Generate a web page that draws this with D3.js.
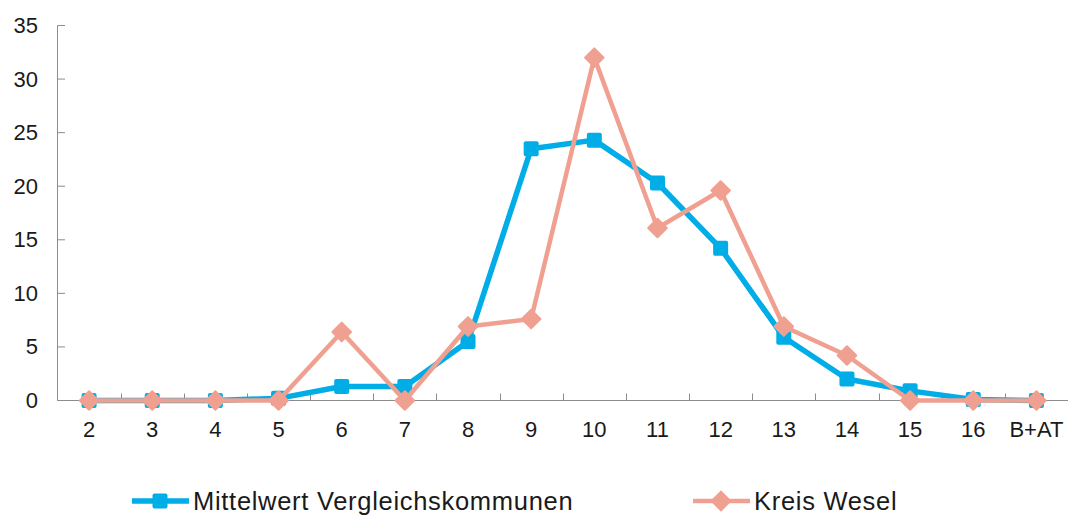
<!DOCTYPE html>
<html><head><meta charset="utf-8">
<script src="https://cdn.jsdelivr.net/npm/d3@7"></script>
<style>body{margin:0;background:#fff}svg{display:block}text{font-family:"Liberation Sans",Arial,sans-serif}</style>
</head><body><svg id="c" width="1071" height="516"></svg>
<script>
const categories = ["2","3","4","5","6","7","8","9","10","11","12","13","14","15","16","B+AT"];
const mittelwert = [0,0,0,0.2,1.3,1.3,5.5,23.5,24.3,20.3,14.2,5.9,2.0,0.9,0.1,0];
const kreisWesel = [0,0,0,0,6.4,0,6.9,7.6,32.0,16.1,19.6,6.9,4.2,0,0,0];
const yTicks = [0,5,10,15,20,25,30,35];
const seriesNames = ["Mittelwert Vergleichskommunen","Kreis Wesel"];

const svg = d3.select("#c");
const x = d3.scaleBand().domain(categories).range([57.5, 1068]);
const y = d3.scaleLinear().domain([0,35]).range([400.5, 25.5]);
const axisColor = "#8c8c8c";

// y axis
svg.append("line").attr("x1",57.5).attr("x2",57.5).attr("y1",y(35)).attr("y2",y(0)).attr("stroke",axisColor);
yTicks.forEach(t=>{
  svg.append("line").attr("x1",57.5).attr("x2",65).attr("y1",y(t)).attr("y2",y(t)).attr("stroke",axisColor);
  svg.append("text").attr("x",38).attr("y",y(t)+7.5).attr("text-anchor","end").attr("font-size",22).attr("fill","#1a1a1a").text(t);
});
// x axis
svg.append("line").attr("x1",57.5).attr("x2",1068).attr("y1",y(0)).attr("y2",y(0)).attr("stroke",axisColor);
categories.forEach((c,i)=>{
  if(i>0){
    const bx = Math.round(x(c))+0.5;
    svg.append("line").attr("x1",bx).attr("x2",bx).attr("y1",y(0)).attr("y2",y(0)-7).attr("stroke",axisColor);
  }
  svg.append("text").attr("x",x(c)+x.bandwidth()/2).attr("y",437).attr("text-anchor","middle").attr("font-size",22).attr("fill","#1a1a1a").text(c);
});

const blue = "#00ade6", salmon = "#f0a090";
const cx = (d,i)=>x(categories[i])+x.bandwidth()/2;
const line = d3.line().x(cx).y(d=>y(d));

svg.append("path").datum(mittelwert).attr("d",line).attr("fill","none").attr("stroke",blue).attr("stroke-width",5.5).attr("stroke-linejoin","round");
svg.selectAll(".sq").data(mittelwert).enter().append("rect")
  .attr("x",(d,i)=>cx(d,i)-7.5).attr("y",d=>y(d)-7.5).attr("width",15).attr("height",15).attr("rx",2).attr("fill",blue);

svg.append("path").datum(kreisWesel).attr("d",line).attr("fill","none").attr("stroke",salmon).attr("stroke-width",4.5).attr("stroke-linejoin","round");
const dia = d3.symbol().type(d3.symbolDiamond2).size(220);
svg.selectAll(".dm").data(kreisWesel).enter().append("path")
  .attr("d",dia).attr("transform",(d,i)=>`translate(${cx(d,i)},${y(d)})`).attr("fill",salmon).attr("stroke",salmon).attr("stroke-width",2).attr("stroke-linejoin","round");

// legend
const lg = [{name:seriesNames[0],color:blue,x0:132,type:"sq"},{name:seriesNames[1],color:salmon,x0:693,type:"dm"}];
lg.forEach(l=>{
  const ly = 501;
  svg.append("line").attr("x1",l.x0).attr("x2",l.x0+57).attr("y1",ly).attr("y2",ly).attr("stroke",l.color).attr("stroke-width",l.type==="sq"?5.5:4.5);
  if(l.type==="sq") svg.append("rect").attr("x",l.x0+28-7.5).attr("y",ly-7.5).attr("width",15).attr("height",15).attr("rx",2).attr("fill",l.color);
  else svg.append("path").attr("d",dia).attr("transform",`translate(${l.x0+28},${ly})`).attr("fill",l.color).attr("stroke",l.color).attr("stroke-width",2);
  svg.append("text").attr("x",l.x0+61).attr("y",510).attr("font-size",25.5).attr("letter-spacing",0.7).attr("fill","#1a1a1a").text(l.name);
});
</script></body></html>
